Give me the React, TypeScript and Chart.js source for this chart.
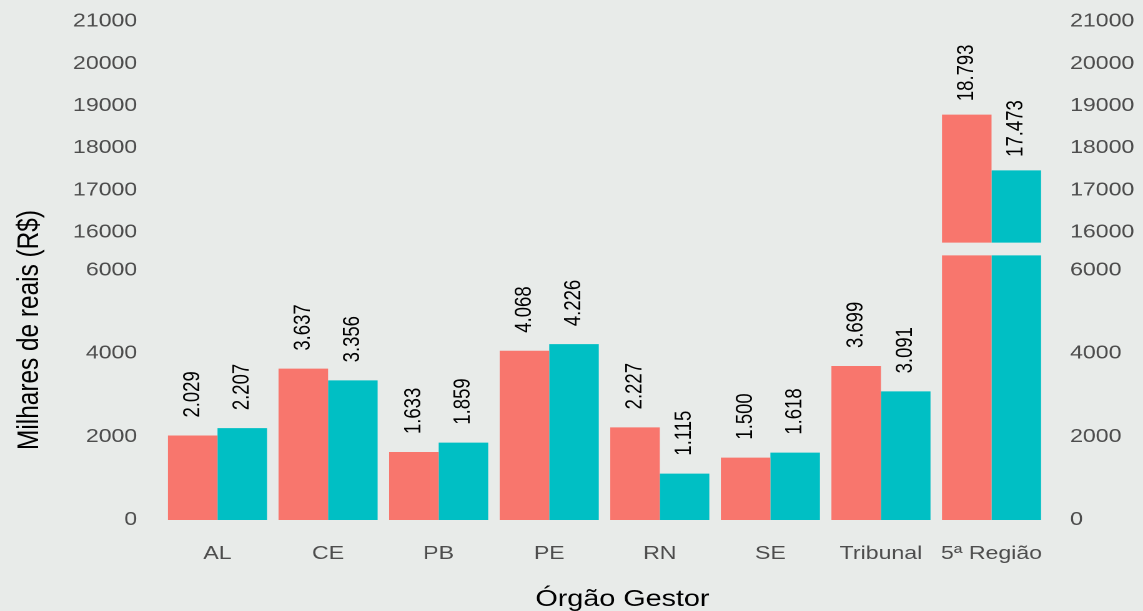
import React, { useEffect, useRef } from 'react';
import { Chart, registerables } from 'chart.js';

Chart.register(...registerables);

// ---- data ----
const categories = ['AL', 'CE', 'PB', 'PE', 'RN', 'SE', 'Tribunal', '5ª Região'];
const seriesRed = [2029, 3637, 1633, 4068, 2227, 1500, 3699, 18793];
const seriesTeal = [2207, 3356, 1859, 4226, 1115, 1618, 3091, 17473];
const lowerTicks = [0, 2000, 4000, 6000];
const upperTicks = [16000, 17000, 18000, 19000, 20000, 21000];

// broken axis ranges
const LOWER_MIN = 0;
const LOWER_MAX = 6360;
const UPPER_MIN = 15460;
const UPPER_MAX = 21300;
const UPPER_BAR_BASE = 15760;

const X_TITLE = 'Órgão Gestor';
const Y_TITLE = 'Milhares de reais (R$)';

const COLOR_RED = '#F8766D';
const COLOR_TEAL = '#00BFC4';
const BG = '#E8EBE9';
const FONT = "'Liberation Sans', Arial, sans-serif";
const TICK_COLOR = '#4D4D4D';

const BASE_W = 915;
const STRETCH = 1143 / BASE_W;

const fmt = (v: number) => String(v).replace(/\B(?=(\d{3})+(?!\d))/g, '.');

const lowerVals = (arr: number[]) => arr.map((v) => Math.min(v, LOWER_MAX));
const upperVals = (arr: number[]) => arr.map((v) => (v > LOWER_MAX ? [UPPER_BAR_BASE, v] : null));
const lowerLabels = (arr: number[]) => arr.map((v) => (v <= LOWER_MAX ? v : null));
const upperLabels = (arr: number[]) => arr.map((v) => (v > LOWER_MAX ? v : null));

const textPlugin = {
  id: 'textPlugin',
  afterDatasetsDraw(chart: any) {
    const ctx = chart.ctx;
    chart.data.datasets.forEach((ds: any, i: number) => {
      const meta = chart.getDatasetMeta(i);
      meta.data.forEach((el: any, j: number) => {
        const v = ds.labelValues[j];
        if (v == null) return;
        ctx.save();
        ctx.translate(el.x, el.y - ds.labelGap);
        ctx.rotate(-Math.PI / 2);
        ctx.font = `18.5px ${FONT}`;
        ctx.fillStyle = '#000000';
        ctx.textAlign = 'left';
        ctx.textBaseline = 'middle';
        ctx.fillText(fmt(v), 0, 0);
        ctx.restore();
      });
    });
  },
  afterDraw(chart: any) {
    const ctx = chart.ctx;
    ctx.save();
    ctx.translate(30.7, 330);
    ctx.rotate(-Math.PI / 2);
    ctx.font = `24.4px ${FONT}`;
    ctx.fillStyle = '#000000';
    ctx.textAlign = 'center';
    ctx.textBaseline = 'alphabetic';
    ctx.fillText(Y_TITLE, 0, 0);
    ctx.restore();

    ctx.save();
    ctx.font = `23px ${FONT}`;
    ctx.fillStyle = '#000000';
    ctx.textAlign = 'center';
    ctx.textBaseline = 'middle';
    ctx.fillText(X_TITLE, 498.3, 599.5);
    ctx.restore();
  },
};

const tickFont = { family: FONT, size: 18.5 };

function yAxis(min: number, max: number, ticks: number[], position: string, stack: string, weight: number) {
  return {
    type: 'linear',
    position,
    stack,
    stackWeight: weight,
    min,
    max,
    stacked: false,
    grid: { display: false, drawTicks: false },
    border: { display: false },
    ticks: {
      font: tickFont,
      color: TICK_COLOR,
      padding: position === 'left' ? 20 : 18.6,
      callback: (v: any) => String(v),
    },
    afterBuildTicks: (s: any) => {
      s.ticks = ticks.map((v) => ({ value: v }));
    },
    afterFit: (s: any) => {
      s.width = position === 'left' ? 129.85 : 77;
      s.paddingTop = 0;
      s.paddingBottom = 0;
    },
  };
}

export default function App() {
  const ref = useRef<HTMLCanvasElement>(null);
  useEffect(() => {
    document.body.style.margin = '0';
    document.body.style.background = BG;
    const chart = new Chart(ref.current as HTMLCanvasElement, {
      type: 'bar',
      data: {
        labels: categories,
        datasets: [
          {
            label: 'red-lower', data: lowerVals(seriesRed), yAxisID: 'y', stack: 'red',
            backgroundColor: COLOR_RED, labelValues: lowerLabels(seriesRed), labelGap: 18,
          },
          {
            label: 'red-upper', data: upperVals(seriesRed), yAxisID: 'y2', stack: 'red',
            backgroundColor: COLOR_RED, labelValues: upperLabels(seriesRed), labelGap: 13.5,
          },
          {
            label: 'teal-lower', data: lowerVals(seriesTeal), yAxisID: 'y', stack: 'teal',
            backgroundColor: COLOR_TEAL, labelValues: lowerLabels(seriesTeal), labelGap: 18,
          },
          {
            label: 'teal-upper', data: upperVals(seriesTeal), yAxisID: 'y2', stack: 'teal',
            backgroundColor: COLOR_TEAL, labelValues: upperLabels(seriesTeal), labelGap: 13.5,
          },
        ] as any,
      },
      options: {
        animation: false,
        responsive: true,
        maintainAspectRatio: false,
        devicePixelRatio: 2,
        layout: { padding: { top: 8.8, left: 0, right: 0, bottom: 0 } },
        plugins: { legend: { display: false }, tooltip: { enabled: false } },
        datasets: { bar: { categoryPercentage: 0.896, barPercentage: 1.0 } },
        scales: {
          x: {
            type: 'category',
            offset: true,
            grid: { display: false, drawTicks: false },
            border: { display: false },
            ticks: { font: tickFont, color: TICK_COLOR, padding: 23, autoSkip: false, maxRotation: 0 },
            afterFit: (s: any) => {
              s.height = 91;
              s.paddingLeft = 0;
              s.paddingRight = 0;
            },
          },
          y: yAxis(LOWER_MIN, LOWER_MAX, lowerTicks, 'left', 'left', 264.7),
          y2: yAxis(UPPER_MIN, UPPER_MAX, upperTicks, 'left', 'left', 246.5),
          y2r: yAxis(UPPER_MIN, UPPER_MAX, upperTicks, 'right', 'right', 246.5),
          yr: yAxis(LOWER_MIN, LOWER_MAX, lowerTicks, 'right', 'right', 264.7),
        } as any,
      },
      plugins: [textPlugin],
    } as any);
    return () => chart.destroy();
  }, []);

  return (
    <div style={{ position: 'fixed', left: 0, top: 0, width: 1143, height: 611, overflow: 'hidden', background: BG }}>
      <div
        style={{
          position: 'relative',
          width: BASE_W,
          height: 611,
          transform: `scaleX(${STRETCH})`,
          transformOrigin: '0 0',
        }}
      >
        <canvas ref={ref} />
      </div>
    </div>
  );
}
